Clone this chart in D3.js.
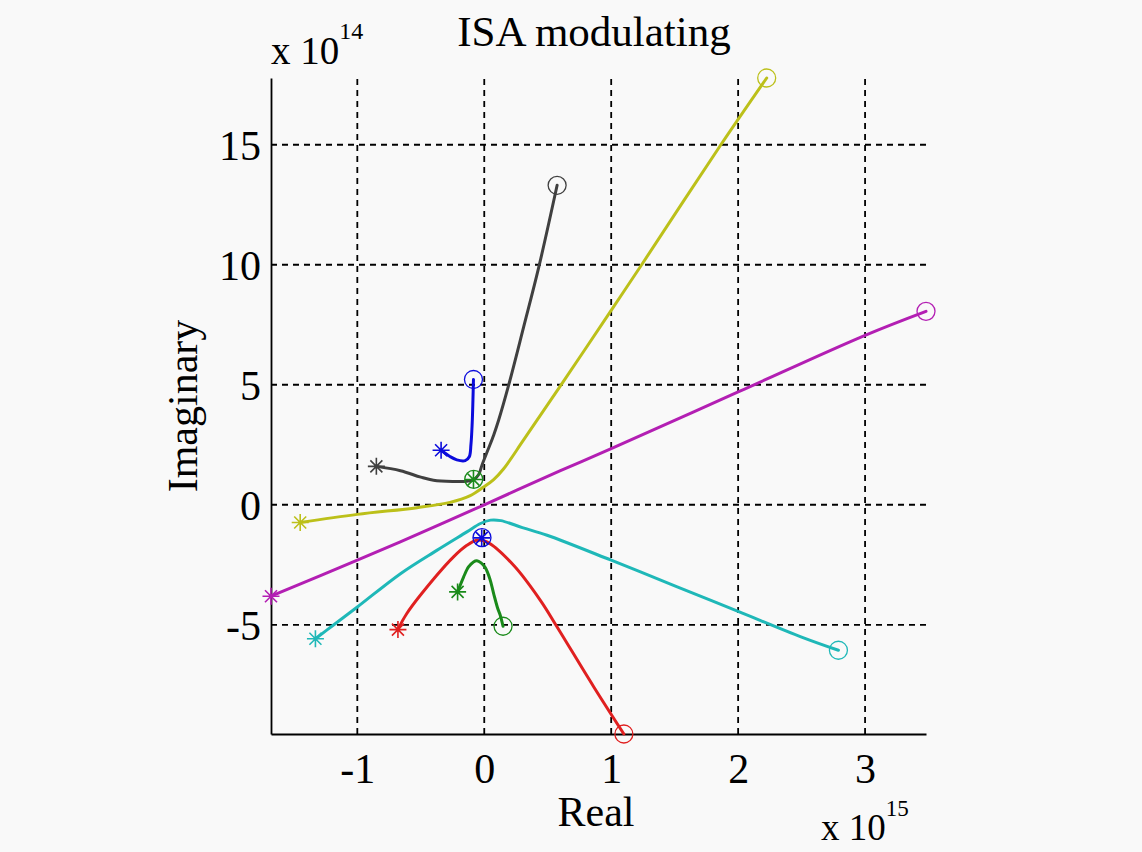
<!DOCTYPE html>
<html>
<head>
<meta charset="utf-8">
<script src="https://cdn.jsdelivr.net/npm/d3@7"></script>
<style>
  body { margin: 0; background: #f9f9f9; }
  svg { display: block; }
  text { font-family: "Liberation Serif", "Times New Roman", serif; fill: #000; }
</style>
</head>
<body>
<svg id="chart" width="1142" height="852"></svg>
<script>
// Root-locus branches. Real part in units of 1e15, imaginary part in units of 1e14.
// Each branch runs from its start (*) to its end (o).
const locusBlue = [[-0.34, 2.27], [-0.27, 2.01], [-0.216, 1.87], [-0.15, 1.84], [-0.118, 2.0],
  [-0.105, 2.5], [-0.095, 3.4], [-0.089, 4.4], [-0.085, 5.22]];
const locusGreen = [[-0.21, -3.63], [-0.163, -3.01], [-0.124, -2.59], [-0.085, -2.38], [-0.058, -2.33],
  [-0.025, -2.42], [0.008, -2.62], [0.045, -3.1], [0.074, -3.7], [0.105, -4.3], [0.126, -4.6], [0.148, -5.06]];
const locusRed = [[-0.68, -5.2], [-0.61, -4.53], [-0.374, -2.94], [-0.242, -2.17],
  [-0.137, -1.69], [-0.058, -1.48], [0.021, -1.55], [0.231, -2.52], [0.442, -3.98], [0.574, -5.09],
  [0.863, -7.59], [1.1, -9.55]];
const locusCyan = [[-1.33, -5.58], [-1.19, -5.02], [-1.0, -4.26], [-0.66, -2.87], [-0.374, -1.9],
  [-0.137, -1.13], [-0.03, -0.78], [0.05, -0.64], [0.13, -0.66], [0.3, -0.95], [0.495, -1.27],
  [1.0, -2.31], [1.52, -3.42], [2.0, -4.44], [2.5, -5.51], [2.79, -6.06]];
const locusMagenta = [[-1.68, -3.81], [-1.0, -2.31], [-0.5, -1.17], [0, 0], [0.6, 1.42], [1.0, 2.34],
  [2.0, 4.70], [3.0, 7.06], [3.48, 8.06]];
const locusYellow = [[-1.45, -0.74], [-1.0, -0.40], [-0.53, -0.12], [-0.27, 0.10], [-0.11, 0.38],
  [-0.005, 0.74], [0.074, 1.05], [0.153, 1.5], [0.31, 2.7], [0.6, 4.95], [1.0, 8.1], [1.24, 10.0],
  [1.864, 15.0], [2.225, 17.78]];
const locusBlack = [[-0.85, 1.60], [-0.66, 1.42], [-0.5, 1.15], [-0.40, 1.02], [-0.25, 0.97],
  [-0.137, 0.98], [-0.085, 1.04], [-0.045, 1.25], [-0.018, 1.65], [0.03, 2.3], [0.074, 2.9],
  [0.113, 3.52], [0.19, 4.94], [0.31, 7.4], [0.43, 9.91], [0.574, 13.31]];
// Two branches that barely move
const locusBlue2 = [[-0.02, -1.38], [-0.018, -1.37]];
const locusGreen2 = [[-0.085, 1.05], [-0.083, 1.06]];

const branches = [locusBlue, locusGreen, locusRed, locusCyan, locusMagenta, locusYellow, locusBlack,
  locusBlue2, locusGreen2];
const branchColors = ["#0c0cdc", "#1a8a1a", "#e02020", "#1fb8b8", "#b31fb3", "#bcc01a", "#404040",
  "#0c0cdc", "#1a8a1a"];

const xTicks = [-1, 0, 1, 2, 3];
const yTicks = [-5, 0, 5, 10, 15];

const titleText = "ISA modulating";
const xLabel = "Real";
const yLabel = "Imaginary";

const plot = { left: 271, right: 926, top: 78, bottom: 734 };

const svg = d3.select("#chart");

const allPts = branches.flat();
const x = d3.scaleLinear().domain(d3.extent(allPts, d => d[0])).range([plot.left, plot.right]);
const y = d3.scaleLinear().domain(d3.extent(allPts, d => d[1])).range([plot.bottom, plot.top]);

// dashed grid
const grid = svg.append("g").attr("stroke", "#000").attr("stroke-width", 1.8)
  .attr("stroke-dasharray", "6,5");
grid.selectAll("line.v").data(xTicks).join("line").attr("class", "v")
  .attr("x1", d => x(d)).attr("x2", d => x(d))
  .attr("y1", plot.bottom).attr("y2", plot.top);
grid.selectAll("line.h").data(yTicks).join("line").attr("class", "h")
  .attr("y1", d => y(d)).attr("y2", d => y(d))
  .attr("x1", plot.left).attr("x2", plot.right);

// axes: left and bottom only
const plainNum = d => String(d);
const xAxis = d3.axisBottom(x).tickValues(xTicks).tickSize(0).tickPadding(19).tickFormat(plainNum);
const yAxis = d3.axisLeft(y).tickValues(yTicks).tickSize(0).tickPadding(10).tickFormat(plainNum);

const gx = svg.append("g").attr("transform", `translate(0,${plot.bottom})`).call(xAxis);
const gy = svg.append("g").attr("transform", `translate(${plot.left},0)`).call(yAxis);
[gx, gy].forEach(g => {
  g.select(".domain").attr("stroke", "#000").attr("stroke-width", 1.8);
  g.selectAll("text").attr("font-size", 42).attr("font-family", "Liberation Serif").attr("fill", "#000");
});
gx.selectAll("text").attr("dy", "0.71em");
gy.selectAll("text").attr("dy", "0.34em");

// branches
const line = d3.line().x(d => x(d[0])).y(d => y(d[1])).curve(d3.curveCatmullRom.alpha(0.5));
const gLines = svg.append("g").attr("fill", "none");
gLines.selectAll("path").data(branches).join("path")
  .attr("d", line)
  .attr("stroke", (d, i) => branchColors[i])
  .attr("stroke-width", 3)
  .attr("stroke-linejoin", "round")
  .attr("stroke-linecap", "round");

// start markers (*)
const starR = 8.5;
const starPath = (() => {
  const a = starR, b = starR * Math.SQRT1_2;
  return `M${-a},0L${a},0M0,${-a}L0,${a}M${-b},${-b}L${b},${b}M${-b},${b}L${b},${-b}`;
})();
svg.append("g").selectAll("path").data(branches).join("path")
  .attr("transform", d => `translate(${x(d[0][0])},${y(d[0][1])})`)
  .attr("d", starPath)
  .attr("fill", "none")
  .attr("stroke", (d, i) => branchColors[i])
  .attr("stroke-width", 1.6);

// end markers (o)
svg.append("g").selectAll("circle").data(branches).join("circle")
  .attr("cx", d => x(d[d.length - 1][0]))
  .attr("cy", d => y(d[d.length - 1][1]))
  .attr("r", 9)
  .attr("fill", "none")
  .attr("stroke", (d, i) => branchColors[i])
  .attr("stroke-width", 1.3);

// title
svg.append("text").attr("x", 594).attr("y", 46).attr("text-anchor", "middle")
  .attr("font-size", 43).text(titleText);

// axis labels
svg.append("text").attr("x", 596).attr("y", 826).attr("text-anchor", "middle")
  .attr("font-size", 42).text(xLabel);
svg.append("text").attr("transform", "translate(197,406) rotate(-90)").attr("text-anchor", "middle")
  .attr("font-size", 42).text(yLabel);

// exponent multipliers
const expY = svg.append("text").attr("x", 271).attr("y", 64).attr("font-size", 39);
expY.append("tspan").text("x 10");
expY.append("tspan").attr("dy", -25).attr("font-size", 24).text("14");

const expX = svg.append("text").attr("x", 821).attr("y", 840).attr("font-size", 37);
expX.append("tspan").text("x 10");
expX.append("tspan").attr("dy", -24).attr("font-size", 23).text("15");
</script>
</body>
</html>
